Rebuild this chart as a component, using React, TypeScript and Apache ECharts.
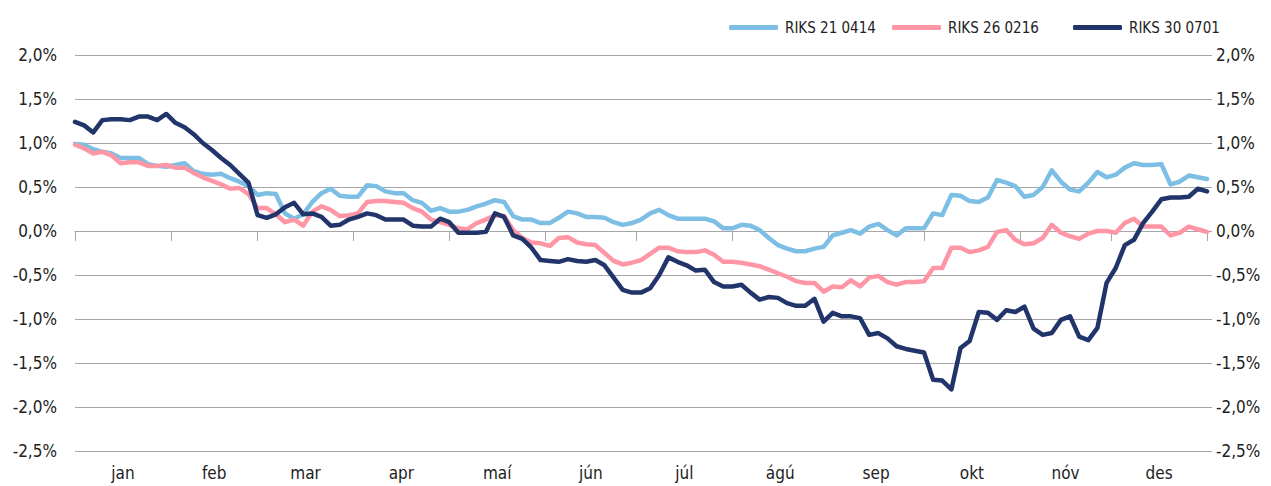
import React, { useEffect, useRef } from "react";
import * as echarts from "echarts";

const monthNames = ["jan", "feb", "mar", "apr", "maí", "jún", "júl", "ágú", "sep", "okt", "nóv", "des"];
const monthDays = [21, 19, 21, 21, 21, 20, 21, 21, 21, 21, 20, 21];
const sampleStep = 2; // trading days between samples

const seriesNames = ["RIKS 21 0414", "RIKS 26 0216", "RIKS 30 0701"];
const seriesColors = ["#7dbee4", "#ff96a6", "#21356b"];

const riks21 = [
  0.99, 0.98, 0.93, 0.90, 0.88, 0.83, 0.83, 0.83, 0.76, 0.74, 0.73, 0.75, 0.77, 0.68, 0.65, 0.64, 0.65, 0.60, 0.56, 0.51,
  0.41, 0.43, 0.42, 0.20, 0.14, 0.19, 0.33, 0.43, 0.48, 0.40, 0.39, 0.39, 0.52, 0.51, 0.45, 0.43, 0.43, 0.35, 0.32, 0.23,
  0.26, 0.22, 0.22, 0.24, 0.28, 0.31, 0.35, 0.33, 0.17, 0.13, 0.13, 0.09, 0.09, 0.15, 0.22, 0.20, 0.16, 0.16, 0.15, 0.10,
  0.07, 0.09, 0.13, 0.20, 0.24, 0.18, 0.14, 0.14, 0.14, 0.14, 0.11, 0.03, 0.03, 0.07, 0.06, 0.01, -0.08, -0.16, -0.20, -0.23,
  -0.23, -0.20, -0.18, -0.05, -0.02, 0.01, -0.03, 0.05, 0.08, 0.01, -0.05, 0.03, 0.03, 0.03, 0.20, 0.18, 0.41, 0.40, 0.34, 0.33,
  0.38, 0.58, 0.55, 0.51, 0.39, 0.41, 0.50, 0.69, 0.56, 0.47, 0.45, 0.55, 0.67, 0.61, 0.64, 0.72, 0.77, 0.75, 0.75, 0.76,
  0.53, 0.56, 0.63, 0.61, 0.59,
];

const riks26 = [
  0.98, 0.94, 0.88, 0.90, 0.86, 0.77, 0.78, 0.78, 0.74, 0.74, 0.75, 0.72, 0.72, 0.66, 0.61, 0.57, 0.53, 0.48, 0.49, 0.42,
  0.26, 0.26, 0.19, 0.10, 0.13, 0.06, 0.22, 0.28, 0.24, 0.17, 0.18, 0.20, 0.33, 0.34, 0.34, 0.33, 0.32, 0.26, 0.22, 0.13,
  0.10, 0.07, 0.03, 0.02, 0.09, 0.13, 0.18, 0.17, 0.01, -0.08, -0.13, -0.14, -0.17, -0.08, -0.07, -0.13, -0.15, -0.16, -0.25, -0.34,
  -0.38, -0.36, -0.33, -0.26, -0.19, -0.19, -0.23, -0.24, -0.24, -0.22, -0.27, -0.35, -0.35, -0.36, -0.38, -0.40, -0.44, -0.48, -0.52, -0.57,
  -0.59, -0.59, -0.69, -0.63, -0.64, -0.56, -0.63, -0.53, -0.51, -0.58, -0.61, -0.58, -0.58, -0.57, -0.42, -0.42, -0.19, -0.19, -0.24, -0.22,
  -0.18, -0.01, 0.01, -0.10, -0.15, -0.14, -0.08, 0.07, -0.02, -0.06, -0.09, -0.03, 0.00, 0.00, -0.02, 0.09, 0.14, 0.05, 0.05, 0.05,
  -0.05, -0.02, 0.05, 0.02, -0.01,
];

const riks30 = [
  1.24, 1.20, 1.12, 1.26, 1.27, 1.27, 1.26, 1.30, 1.30, 1.26, 1.33, 1.23, 1.18, 1.10, 1.00, 0.92, 0.83, 0.75, 0.65, 0.55,
  0.18, 0.15, 0.19, 0.27, 0.32, 0.19, 0.20, 0.16, 0.06, 0.07, 0.13, 0.16, 0.20, 0.18, 0.13, 0.13, 0.13, 0.06, 0.05, 0.05,
  0.14, 0.10, -0.02, -0.02, -0.02, -0.01, 0.20, 0.16, -0.05, -0.09, -0.19, -0.33, -0.34, -0.35, -0.32, -0.34, -0.35, -0.33, -0.39, -0.53,
  -0.67, -0.70, -0.70, -0.65, -0.50, -0.30, -0.35, -0.39, -0.45, -0.44, -0.58, -0.63, -0.63, -0.61, -0.70, -0.78, -0.75, -0.76, -0.82, -0.85,
  -0.85, -0.77, -1.03, -0.93, -0.97, -0.97, -0.99, -1.18, -1.16, -1.22, -1.31, -1.34, -1.36, -1.38, -1.69, -1.70, -1.80, -1.33, -1.25, -0.92,
  -0.93, -1.01, -0.90, -0.92, -0.86, -1.11, -1.18, -1.16, -1.01, -0.97, -1.20, -1.24, -1.10, -0.59, -0.42, -0.16, -0.10, 0.09, 0.22, 0.36,
  0.38, 0.38, 0.39, 0.48, 0.45,
];

const yTicks = [-2.5, -2.0, -1.5, -1.0, -0.5, 0.0, 0.5, 1.0, 1.5, 2.0];

const FONT = "'DejaVu Sans Condensed', 'Liberation Sans Narrow', 'Roboto Condensed', sans-serif";

export default function App() {
  const ref = useRef<HTMLDivElement>(null);

  useEffect(() => {
    document.body.style.margin = "0";
    if (!ref.current) return;
    const chart = echarts.init(ref.current, null, { renderer: "svg" });

    const monthStarts: number[] = [0];
    monthDays.forEach((d) => monthStarts.push(monthStarts[monthStarts.length - 1] + d));
    const totalDays = monthStarts[monthStarts.length - 1];
    const monthMids = monthNames.map((_, i) => (monthStarts[i] + monthStarts[i + 1]) / 2);

    const toPairs = (arr: number[]) => arr.map((v, i) => [i * sampleStep, v]);
    const allData = [riks21, riks26, riks30];

    const fmtPct = (v: number) => v.toFixed(1).replace(".", ",") + "%";

    const legendLefts = [724, 887, 1068];

    const option: any = {
      animation: false,
      backgroundColor: "#ffffff",
      textStyle: { fontFamily: FONT },
      grid: { left: 75, right: 64, top: 55, bottom: 35, containLabel: false, outerBoundsMode: "none" },
      legend: seriesNames.map((name, i) => ({
        data: [name],
        left: legendLefts[i],
        top: 15,
        icon: "roundRect",
        itemWidth: 49,
        itemHeight: 5,
        textStyle: { fontFamily: FONT, fontSize: 15, color: "#222", padding: [0, 0, 0, 2] },
        selectedMode: false,
      })),
      xAxis: {
        type: "value",
        min: 0,
        max: totalDays,
        splitLine: { show: false },
        axisLine: { show: true, lineStyle: { color: "#a6a6a6", width: 1 } },
        axisTick: {
          show: true,
          length: 10,
          customValues: monthStarts,
          lineStyle: { color: "#a6a6a6" },
        },
        axisLabel: {
          customValues: monthMids,
          margin: 13,
          fontFamily: FONT,
          fontSize: 17,
          color: "#222",
          formatter: (val: number) => {
            const idx = monthMids.findIndex((m) => Math.abs(m - val) < 0.01);
            return idx >= 0 ? monthNames[idx] : "";
          },
        },
      },
      yAxis: [
        {
          type: "value",
          min: yTicks[0],
          max: yTicks[yTicks.length - 1],
          interval: 0.5,
          position: "left",
          axisLine: { show: false },
          axisTick: { show: false },
          splitLine: { show: true, lineStyle: { color: "#a6a6a6", width: 1 } },
          axisLabel: { formatter: fmtPct, margin: 18, fontFamily: FONT, fontSize: 17, color: "#222" },
        },
        {
          type: "value",
          min: yTicks[0],
          max: yTicks[yTicks.length - 1],
          interval: 0.5,
          position: "right",
          axisLine: { show: true, lineStyle: { color: "rgba(0,0,0,0)" } },
          axisTick: { show: true, length: 5, lineStyle: { color: "#a6a6a6" } },
          splitLine: { show: false },
          axisLabel: { formatter: fmtPct, margin: 9, fontFamily: FONT, fontSize: 17, color: "#222" },
        },
      ],
      series: seriesNames.map((name, i) => ({
        name,
        type: "line",
        yAxisIndex: 0,
        data: toPairs(allData[i]),
        showSymbol: false,
        symbol: "none",
        clip: false,
        color: seriesColors[i],
        lineStyle: { width: 4.5, color: seriesColors[i], join: "round", cap: "round" },
        emphasis: { disabled: true },
      })),
    };

    chart.setOption(option);
    return () => chart.dispose();
  }, []);

  return <div ref={ref} style={{ width: 1271, height: 486 }} />;
}
